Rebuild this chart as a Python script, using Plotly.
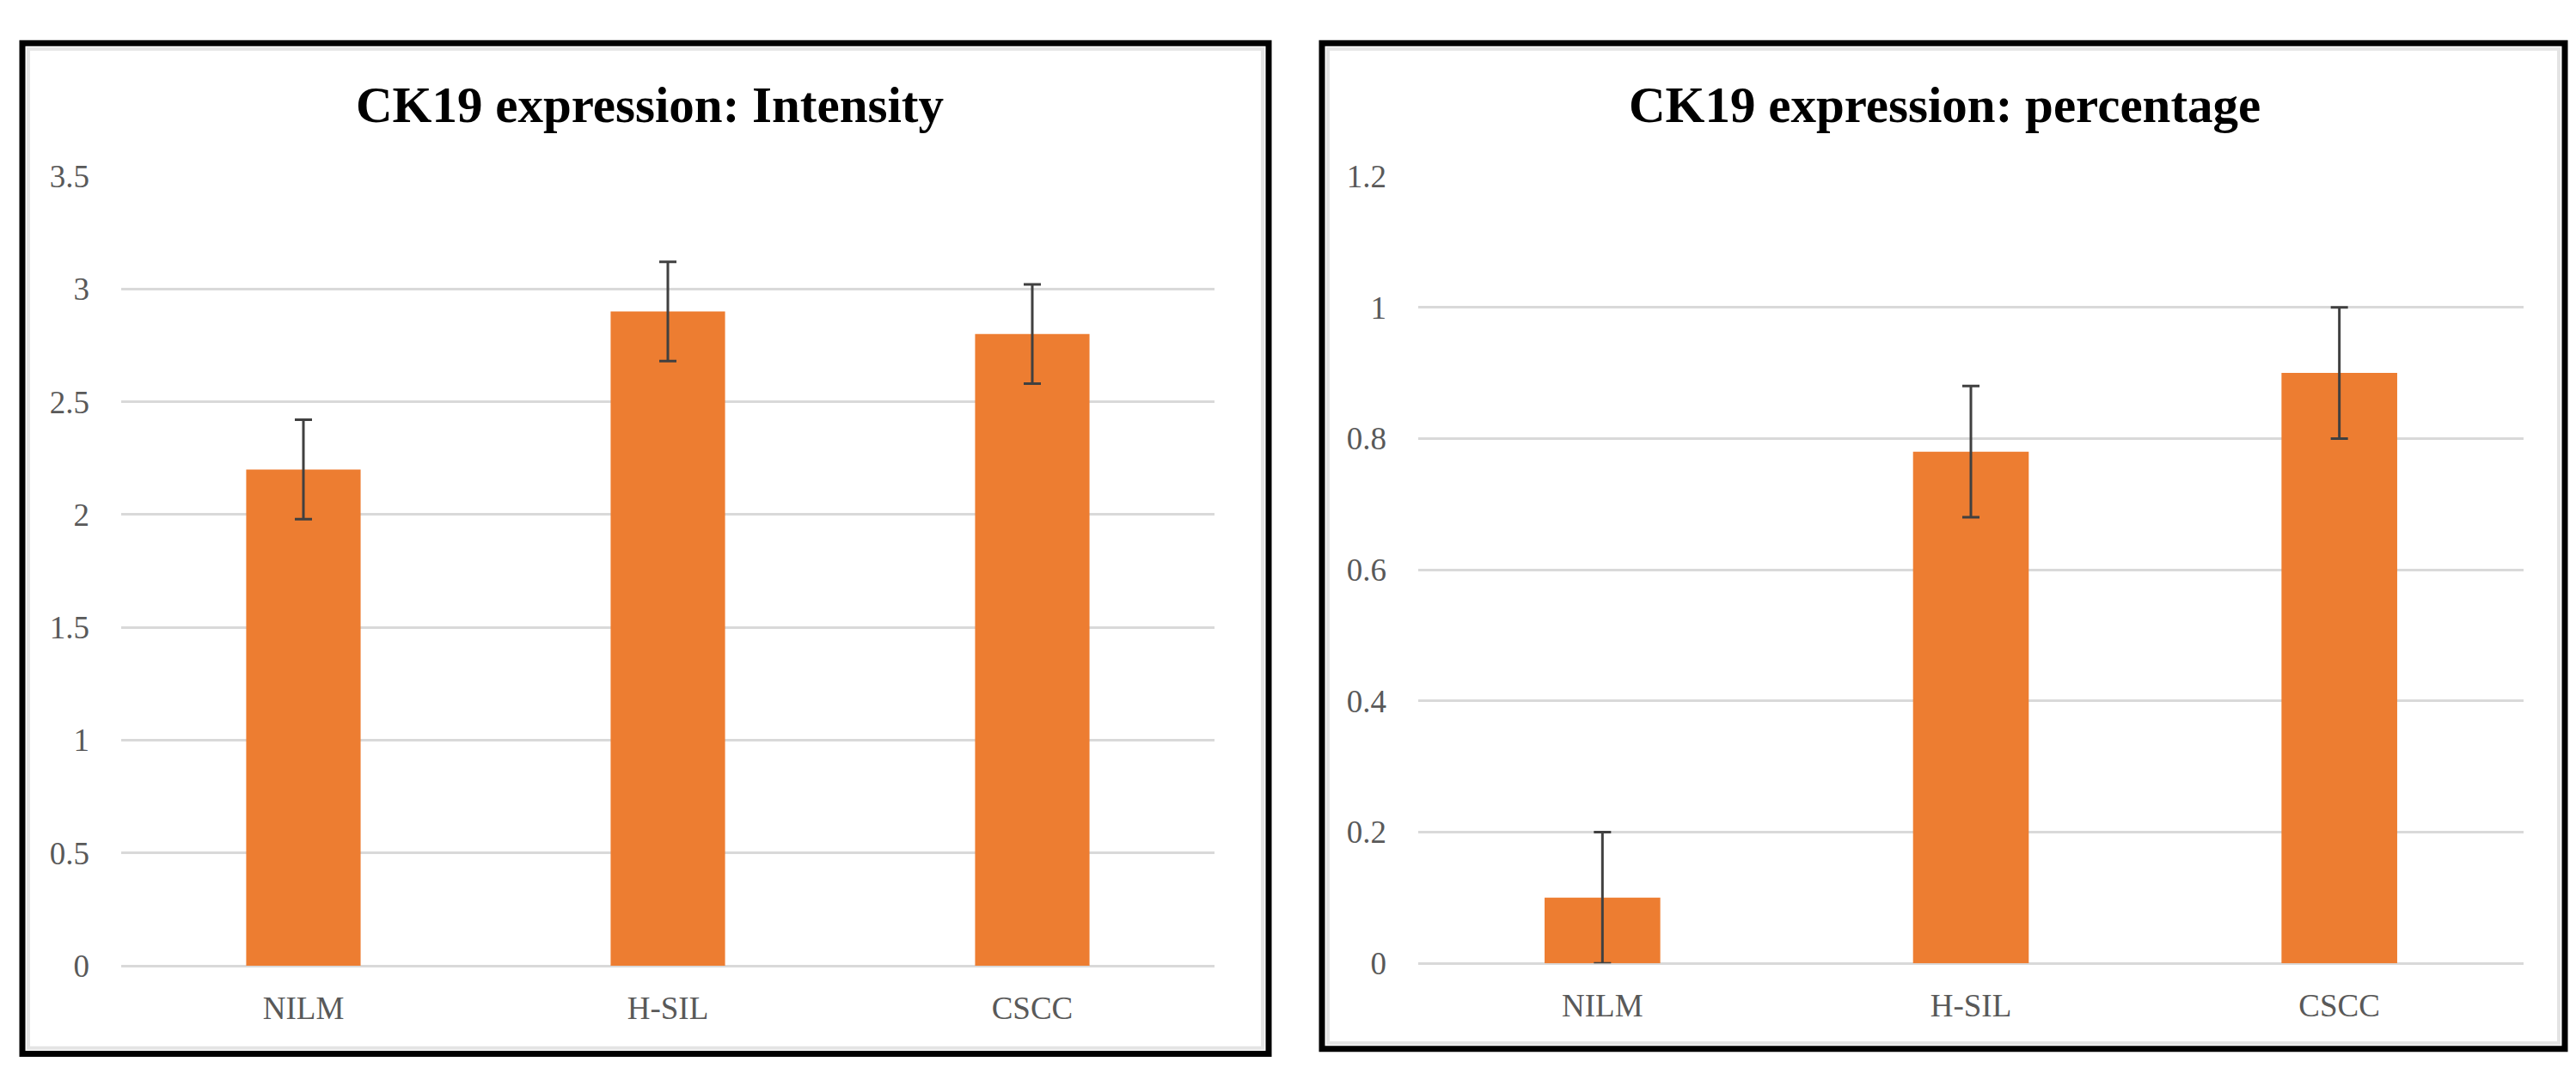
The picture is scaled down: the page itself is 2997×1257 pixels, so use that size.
import plotly.graph_objects as go

W, H = 2997, 1257

categories = ["NILM", "H-SIL", "CSCC"]
intensity_values = [2.2, 2.9, 2.8]
intensity_errors = [0.22, 0.22, 0.22]
percentage_values = [0.1, 0.78, 0.9]
percentage_errors = [0.1, 0.1, 0.1]

title_left = "CK19 expression: Intensity"
title_right = "CK19 expression: percentage"
intensity_ticks = [0, 0.5, 1, 1.5, 2, 2.5, 3, 3.5]
intensity_ticktext = ["0", "0.5", "1", "1.5", "2", "2.5", "3", "3.5"]
percentage_ticks = [0, 0.2, 0.4, 0.6, 0.8, 1, 1.2]
percentage_ticktext = ["0", "0.2", "0.4", "0.6", "0.8", "1", "1.2"]

BAR = "#ED7D31"
GRID = "#D9D9D9"
TXT = "#595959"
FONT = "Palatino Linotype, Book Antiqua, Palatino, Liberation Serif, serif"

def px_x(v):
    return v / W

def px_y(v):
    return 1 - v / H

fig = go.Figure()
fig.add_trace(go.Bar(
    x=categories, y=intensity_values, marker_color=BAR, marker_line_width=0,
    error_y=dict(type="data", array=intensity_errors, color="#404040", thickness=3, width=10),
    xaxis="x", yaxis="y", showlegend=False))
fig.add_trace(go.Bar(
    x=categories, y=percentage_values, marker_color=BAR, marker_line_width=0,
    error_y=dict(type="data", array=percentage_errors, color="#404040", thickness=3, width=10),
    xaxis="x2", yaxis="y2", showlegend=False))

tickfont = dict(family=FONT, size=37, color=TXT)
common_y = dict(showgrid=True, gridcolor=GRID, gridwidth=3, zeroline=True,
                zerolinecolor=GRID, zerolinewidth=3, showline=False,
                tickfont=tickfont, ticks="", ticklabelstandoff=36, fixedrange=True)
common_x = dict(showgrid=False, zeroline=False, showline=False, ticks="",
                tickfont=tickfont, ticklabelstandoff=24, fixedrange=True)

fig.update_layout(
    width=W, height=H, margin=dict(l=0, r=0, t=0, b=0),
    paper_bgcolor="white", plot_bgcolor="white", bargap=0.686,
    xaxis=dict(domain=[px_x(133), px_x(1405)], anchor="y", **common_x),
    yaxis=dict(domain=[px_y(1133), px_y(183)], anchor="x", range=[0, 3.5],
               tickvals=intensity_ticks, ticktext=intensity_ticktext, **common_y),
    xaxis2=dict(domain=[px_x(1642), px_x(2928)], anchor="y2", **common_x),
    yaxis2=dict(domain=[px_y(1130), px_y(183)], anchor="x2", range=[0, 1.2],
                tickvals=percentage_ticks, ticktext=percentage_ticktext, **common_y),
)

shapes = []
for (x0, y0, x1, y1) in [(18, 23, 1468, 1239), (1530, 23, 2976, 1233)]:
    shapes.append(dict(type="rect", xref="paper", yref="paper",
                       x0=px_x(x0 + 7), x1=px_x(x1 - 7), y0=px_y(y1 - 7), y1=px_y(y0 + 7),
                       line=dict(color="#E4E4E4", width=4), fillcolor="rgba(0,0,0,0)"))
    shapes.append(dict(type="rect", xref="paper", yref="paper",
                       x0=px_x(x0), x1=px_x(x1), y0=px_y(y1), y1=px_y(y0),
                       line=dict(color="black", width=7), fillcolor="rgba(0,0,0,0)"))
fig.update_layout(shapes=shapes)

fig.add_annotation(text="<b>%s</b>" % title_left, xref="paper", yref="paper",
                   x=px_x(748), y=px_y(97), xanchor="center", yanchor="middle",
                   showarrow=False, font=dict(family=FONT, size=59, color="black"))
fig.add_annotation(text="<b>%s</b>" % title_right, xref="paper", yref="paper",
                   x=px_x(2254), y=px_y(97), xanchor="center", yanchor="middle",
                   showarrow=False, font=dict(family=FONT, size=59, color="black"))

fig.write_html("out.html")
